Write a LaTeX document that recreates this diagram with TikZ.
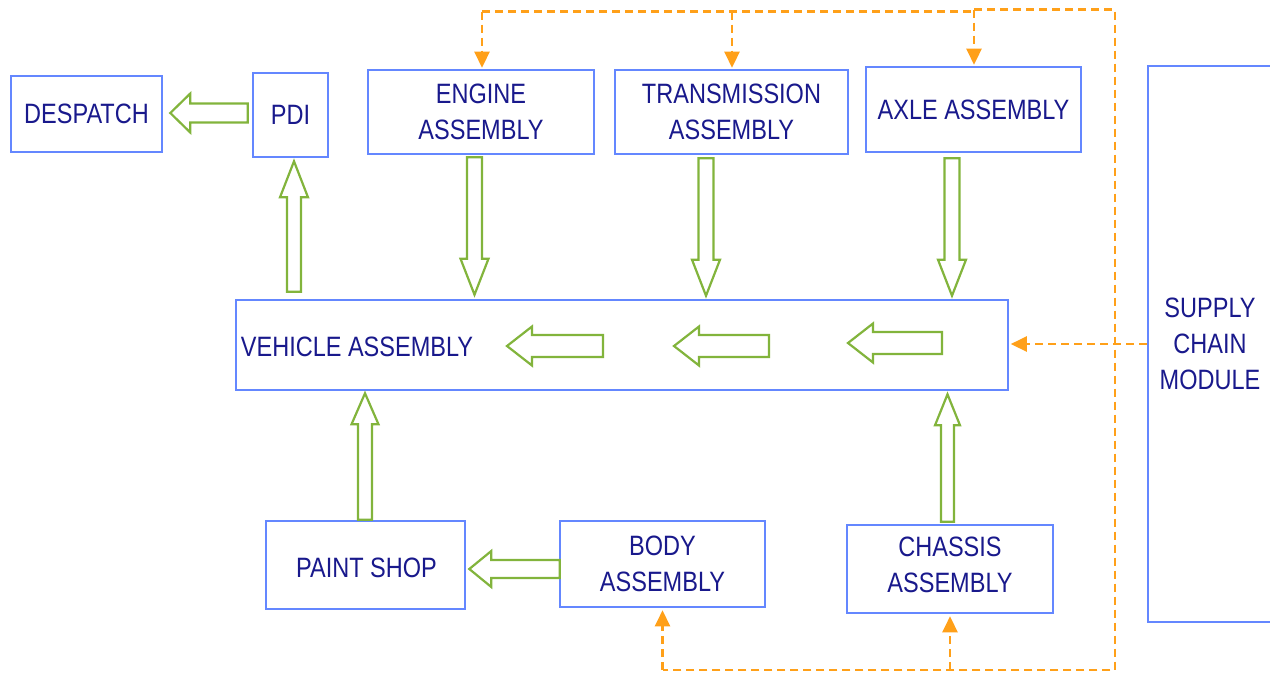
\documentclass[tikz,border=0pt]{standalone}
\usepackage{fontspec}
\setmainfont{Liberation Sans}[FakeStretch=0.84]
\usetikzlibrary{calc,arrows.meta}
\definecolor{boxblue}{RGB}{100,135,255}
\definecolor{txtblue}{RGB}{25,25,140}
\definecolor{arrgreen}{RGB}{130,180,60}
\definecolor{dashorange}{RGB}{255,160,25}
\tikzset{
  box/.style={draw=boxblue,line width=2.6pt,fill=white,inner sep=0pt,align=center,
    text=txtblue,font=\fontsize{28}{36}\selectfont},
  lbl/.style={inner sep=0pt,align=center,text=txtblue,font=\fontsize{28}{36}\selectfont},
  blockarrow/.style={draw=arrgreen,line width=2.2pt,fill=white,line join=miter},
  supply/.style={draw=dashorange,line width=2.6pt,dash pattern=on 8pt off 5pt},
  supplyarr/.style={supply,-{Triangle[length=16pt,width=15pt]}},
}
\newcommand\blockarr[5]{%
  \coordinate (baS) at (#1);
  \coordinate (baE) at (#2);
  \coordinate (baH) at ($(baE)!#5!(baS)$);
  \draw[blockarrow] ($(baS)!#3!90:(baE)$) -- ($(baH)!#3!90:(baE)$) -- ($(baH)!#4!90:(baE)$)
    -- (baE) -- ($(baH)!#4!-90:(baE)$) -- ($(baH)!#3!-90:(baE)$) -- ($(baS)!#3!-90:(baE)$) -- cycle;}
\begin{document}
\begin{tikzpicture}[x=1pt,y=-1pt]
\useasboundingbox (0,0) rectangle (1270,673);
% boxes
\node[box,minimum width=151pt,minimum height=76pt] (desp) at (86.5,114) {DESPATCH};
\node[box,minimum width=75pt,minimum height=84pt] (pdi) at (290.5,115) {PDI};
\node[box,minimum width=226pt,minimum height=84pt] (eng) at (481,112) {ENGINE\\ASSEMBLY};
\node[box,minimum width=233pt,minimum height=84pt] (trans) at (731.5,112) {TRANSMISSION\\ASSEMBLY};
\node[box,minimum width=215pt,minimum height=85pt] (axle) at (973.5,109.5) {AXLE ASSEMBLY};
\node[box,minimum width=124pt,minimum height=556pt] (scm) at (1210,344) {SUPPLY\\CHAIN\\MODULE};
\node[box,minimum width=772pt,minimum height=90pt] (va) at (622,345) {};
\node[lbl,anchor=west] (vatext) at ($(va.west)+(6,2)$) {VEHICLE ASSEMBLY};
\node[box,minimum width=199pt,minimum height=88pt] (paint) at (365.5,565) {};
\node[lbl] (painttext) at ($(paint.center)+(1,3)$) {PAINT SHOP};
\node[box,minimum width=205pt,minimum height=86pt] (body) at (662.5,564) {BODY\\ASSEMBLY};
\node[box,minimum width=206pt,minimum height=88pt] (chassis) at (950,569) {};
\node[lbl] (chassistext) at ($(chassis.center)+(0,-4)$) {CHASSIS\\ASSEMBLY};
% block arrows
\blockarr{$(pdi.west)+(-4,-2)$}{$(desp.east)+(7,-1)$}{9.5pt}{19.5pt}{20pt}
\blockarr{$(pdi.south |- va.north)+(3.5,-7)$}{$(pdi.south)+(3.5,3)$}{7pt}{14pt}{36pt}
\blockarr{$(eng.south)+(-6.5,2)$}{$(eng.south |- va.north)+(-6.5,-4)$}{7.5pt}{14pt}{36pt}
\blockarr{$(trans.south)+(-25.5,3)$}{$(trans.south |- va.north)+(-25.5,-3)$}{7.5pt}{14pt}{36pt}
\blockarr{$(axle.south)+(-21.5,5)$}{$(axle.south |- va.north)+(-21.5,-3)$}{7.5pt}{14pt}{36pt}
\blockarr{$(va.center)+(-19,1)$}{$(va.center)+(-115,1)$}{11pt}{19.5pt}{25pt}
\blockarr{$(va.center)+(147,1)$}{$(va.center)+(52,1)$}{11pt}{19.5pt}{25pt}
\blockarr{$(va.center)+(320,-2)$}{$(va.center)+(226,-2)$}{11pt}{19.5pt}{25pt}
\blockarr{$(paint.north)+(-0.5,0)$}{$(paint.north |- va.south)+(-0.5,2)$}{7pt}{13.5pt}{31pt}
\blockarr{$(body.west)+(1,5)$}{$(paint.east)+(3,4)$}{9pt}{18pt}{22pt}
\blockarr{$(chassis.north)+(-2.5,-2)$}{$(chassis.north |- va.south)+(-2.5,3)$}{6.5pt}{12.5pt}{31pt}
% supply chain dashed connections
\coordinate (tl) at ($(eng.north)+(1,-57)$);
\coordinate (tm) at ($(trans.north)+(0.5,-57)$);
\coordinate (ta) at ($(axle.north)+(0.5,-56)$);
\coordinate (tr) at (ta -| 1115,0);
\coordinate (br) at (1115,670);
\coordinate (bc) at (chassis.south |- br);
\coordinate (bb) at (body.south |- br);
\draw[supply] (tl) -- ($(ta)+(0,2)$);
\draw[supply] (ta) -- (tr) -- (br) -- (bc) -- (bb);
\draw[supplyarr] (tl) -- ($(eng.north)+(1,-1)$);
\draw[supplyarr] (tm) -- ($(trans.north)+(0.5,-1)$);
\draw[supplyarr] (ta) -- ($(axle.north)+(0.5,-1)$);
\draw[supplyarr] (scm.west) -- ($(va.east |- scm.west)+(1.5,0)$);
\draw[supplyarr] (bb) -- ($(body.south)+(0,2)$);
\draw[supplyarr] (bc) -- ($(chassis.south)+(0,2)$);
\end{tikzpicture}
\end{document}
